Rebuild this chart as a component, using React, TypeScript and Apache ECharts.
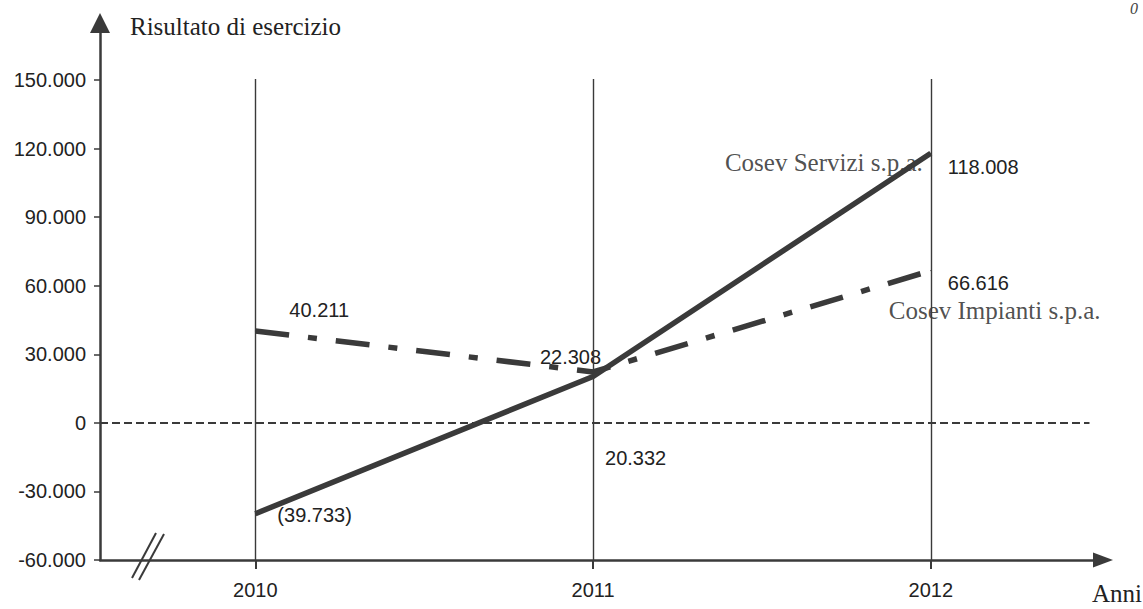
import React, { useEffect, useRef } from "react";
import * as echarts from "echarts";

const years = [2010, 2011, 2012];
const serviziValues = [-39733, 20332, 118008];
const impiantiValues = [40211, 22308, 66616];
const yTicks = [-60000, -30000, 0, 30000, 60000, 90000, 120000, 150000];
const seriesNames = ["Cosev Servizi s.p.a.", "Cosev Impianti s.p.a."];
const yAxisTitle = "Risultato di esercizio";
const xAxisTitle = "Anni";

const fmtIt = (v: number) => {
  const s = Math.abs(v).toString().replace(/\B(?=(\d{3})+(?!\d))/g, ".");
  return v < 0 ? "-" + s : s;
};
const fmtData = (v: number) => (v < 0 ? `(${fmtIt(-v)})` : fmtIt(v));

// label placement (style only)
const serviziLabelLayout = [
  { align: "left", offset: [22, 1] },
  { align: "left", offset: [12, 82] },
  { align: "left", offset: [17, 14] },
];
const impiantiLabelLayout = [
  { align: "left", offset: [34, -21] },
  { align: "right", offset: [8, -15] },
  { align: "left", offset: [17, 12] },
];

const INK = "#3a3a3a";
const SANS = "Liberation Sans, Arial, sans-serif";
const SERIF = "Liberation Serif, Times New Roman, serif";
const X_MIN = 2009.54;
const X_MAX = 2012.51;

export default function App() {
  const ref = useRef<HTMLDivElement>(null);
  useEffect(() => {
    document.body.style.margin = "0";
    if (!ref.current) return;
    const chart = echarts.init(ref.current, undefined, { renderer: "svg" });

    const mkData = (vals: number[], layout: any[]) =>
      years.map((yr, i) => ({
        value: [yr, vals[i]],
        label: {
          show: true,
          position: "inside",
          align: layout[i].align,
          verticalAlign: "middle",
          offset: layout[i].offset,
          formatter: () => fmtData(vals[i]),
          fontFamily: SANS,
          fontSize: 20,
          color: "#222",
        },
      }));

    const last = years.length - 1;

    const vLineStyle = { color: "#3a3a3a", width: 1.4, type: "solid" };
    const zeroLineStyle = { color: "#3a3a3a", width: 2, type: [8, 4] };

    chart.setOption({
      animation: false,
      grid: { left: 100, right: 40, top: 23, bottom: 49 },
      xAxis: {
        type: "value",
        min: X_MIN,
        max: X_MAX,
        splitLine: { show: false },
        axisLine: {
          show: true,
          onZero: false,
          lineStyle: { color: INK, width: 2.5 },
          symbol: ["none", "triangle"],
          symbolSize: [15, 20],
        },
        axisTick: {
          show: true,
          customValues: years,
          length: 9,
          lineStyle: { color: INK, width: 2 },
        },
        axisLabel: {
          customValues: years,
          formatter: (v: number) => String(Math.round(v)),
          fontFamily: SANS,
          fontSize: 20,
          color: "#222",
          margin: 20,
        },
      },
      yAxis: {
        type: "value",
        min: -60000,
        max: 175000,
        interval: 30000,
        splitLine: { show: false },
        axisLine: {
          show: true,
          onZero: false,
          lineStyle: { color: INK, width: 2.5 },
          symbol: ["none", "triangle"],
          symbolSize: [20, 20],
        },
        axisTick: {
          show: true,
          customValues: yTicks,
          length: 6,
          lineStyle: { color: INK, width: 1.5 },
        },
        axisLabel: {
          customValues: yTicks,
          formatter: (v: number) => fmtIt(v),
          fontFamily: SANS,
          fontSize: 20,
          color: "#222",
          margin: 14,
        },
      },
      series: [
        {
          type: "line",
          name: seriesNames[0],
          data: mkData(serviziValues, serviziLabelLayout),
          symbol: "circle",
          symbolSize: 1,
          itemStyle: { color: INK },
          lineStyle: { color: INK, width: 5.5, cap: "butt" },
          z: 5,
          markLine: {
            silent: true,
            symbol: "none",
            label: { show: false },
            data: [
              ...years.map((yr) => [
                { coord: [yr, -60000], lineStyle: vLineStyle },
                { coord: [yr, 150500] },
              ]),
              [
                { coord: [X_MIN, 0], lineStyle: zeroLineStyle },
                { coord: [2012.47, 0] },
              ],
            ],
          },
        },
        {
          type: "line",
          name: seriesNames[1],
          data: mkData(impiantiValues, impiantiLabelLayout),
          symbol: "circle",
          symbolSize: 1,
          itemStyle: { color: INK },
          lineStyle: { color: INK, width: 5.5, type: [34, 19, 9, 19], cap: "butt" },
          z: 4,
        },
        {
          type: "scatter",
          name: seriesNames[0] + " nome",
          symbolSize: 0,
          silent: true,
          data: [[years[last], serviziValues[last]]],
          label: {
            show: true,
            position: "inside",
            align: "right",
            verticalAlign: "middle",
            offset: [-8, 9],
            formatter: () => seriesNames[0],
            fontFamily: SERIF,
            fontSize: 25,
            color: "#222",
          },
        },
        {
          type: "scatter",
          name: seriesNames[1] + " nome",
          symbolSize: 0,
          silent: true,
          data: [[years[last], impiantiValues[last]]],
          label: {
            show: true,
            position: "inside",
            align: "left",
            verticalAlign: "middle",
            offset: [-42, 40],
            formatter: () => seriesNames[1],
            fontFamily: SERIF,
            fontSize: 25,
            color: "#222",
          },
        },
      ],
      graphic: [
        {
          type: "text",
          left: 130,
          top: 14,
          style: { text: yAxisTitle, font: `25px ${SERIF}`, fill: "#222" },
        },
        {
          type: "text",
          left: 1092,
          top: 581,
          style: { text: xAxisTitle, font: `25px ${SERIF}`, fill: "#222" },
        },
        {
          type: "text",
          left: 1130,
          top: 0,
          style: { text: "0", font: `italic 16px ${SERIF}`, fill: "#444" },
        },
        {
          type: "line",
          shape: { x1: 132, y1: 578, x2: 156, y2: 533 },
          style: { stroke: INK, lineWidth: 2 },
        },
        {
          type: "line",
          shape: { x1: 139, y1: 580, x2: 164, y2: 534 },
          style: { stroke: INK, lineWidth: 2 },
        },
      ],
    });
    return () => chart.dispose();
  }, []);
  return <div ref={ref} style={{ width: 1143, height: 609 }} />;
}
